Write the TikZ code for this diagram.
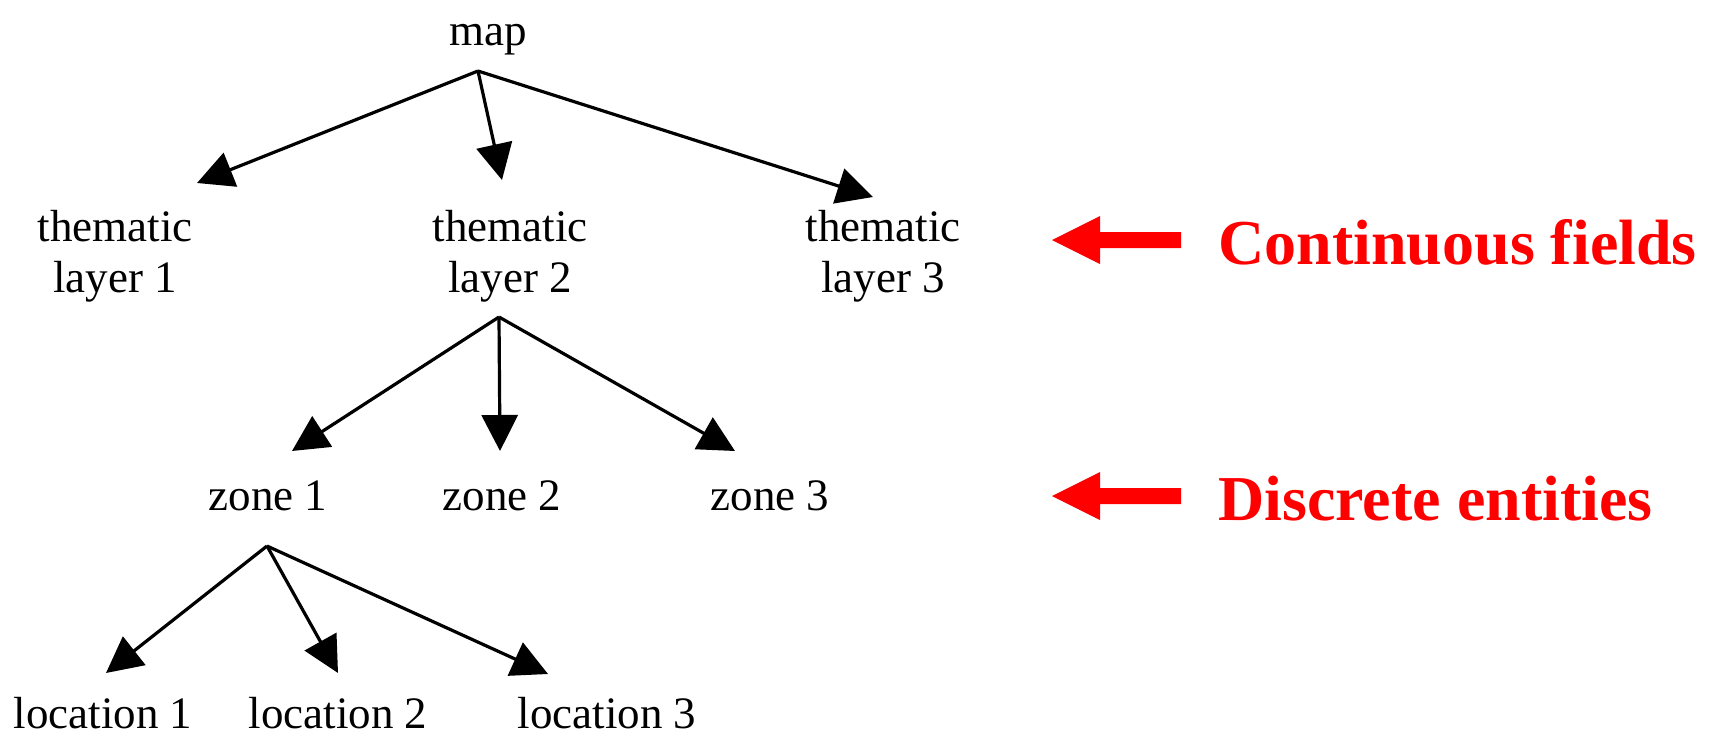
\documentclass[tikz,border=0pt]{standalone}
\usepackage{fontspec}
\setmainfont{Liberation Serif}
\usetikzlibrary{arrows.meta,calc}
\tikzset{
  treenode/.style={draw=none,inner sep=0pt,align=center,font=\fontsize{22.5}{25.5}\selectfont},
  treeedge/.style={black,line width=1.6pt,-{Triangle[length=18pt,width=18pt]}},
  levelnote/.style={draw=none,inner sep=0pt,anchor=base west,text=red,font=\fontsize{32}{38}\selectfont\bfseries},
}
\begin{document}
\begin{tikzpicture}[x=0.5pt,y=-0.5pt,line join=bevel,]
\useasboundingbox (0,0) rectangle (1710,735);
%%
\node (map) at (488,45) [treenode,anchor=base] {map};
  \node (layer_1) at (115,210) [treenode,anchor=north] {thematic\\layer 1};
  \node (layer_2) at (510,210) [treenode,anchor=north] {thematic\\layer 2};
  \node (layer_3) at (883,210) [treenode,anchor=north] {thematic\\layer 3};
  \node (zone_1) at (268,510) [treenode,anchor=base] {zone 1};
  \node (zone_2) at (502,510) [treenode,anchor=base] {zone 2};
  \node (zone_3) at (770,510) [treenode,anchor=base] {zone 3};
  \node (location_1) at (103,728) [treenode,anchor=base] {location 1};
  \node (location_2) at (338,728) [treenode,anchor=base] {location 2};
  \node (location_3) at (607,728) [treenode,anchor=base] {location 3};
%
  \draw [treeedge] ($(map.base)+(-10,26)$) -- ($(layer_1.north)+(82,-27)$);
  \draw [treeedge] ($(map.base)+(-10,26)$) -- ($(layer_2.north)+(-8,-30)$);
  \draw [treeedge] ($(map.base)+(-10,26)$) -- ($(layer_3.north)+(-10,-13)$);
  \draw [treeedge] ($(layer_2.north)+(-11,107)$) -- ($(zone_1.base)+(24,-59)$);
  \draw [treeedge] ($(layer_2.north)+(-11,107)$) -- ($(zone_2.base)+(-2,-59)$);
  \draw [treeedge] ($(layer_2.north)+(-11,107)$) -- ($(zone_3.base)+(-35,-59)$);
  \draw [treeedge] ($(zone_1.base)+(-1,36)$) -- ($(location_1.base)+(3,-55)$);
  \draw [treeedge] ($(zone_1.base)+(-1,36)$) -- ($(location_2.base)+(0,-55)$);
  \draw [treeedge] ($(zone_1.base)+(-1,36)$) -- ($(location_3.base)+(-59,-54)$);
%
\node (fields) at (1218,264) [levelnote] {Continuous fields};
  \node (entities) at (1218,520) [levelnote] {Discrete entities};
  \fill [red] (1052,240) -- (1100,216) -- (1100,232) -- (1181,232) -- (1181,248) -- (1100,248) -- (1100,264) -- cycle;
  \fill [red] (1052,496) -- (1100,472) -- (1100,488) -- (1181,488) -- (1181,504) -- (1100,504) -- (1100,520) -- cycle;
%
\end{tikzpicture}
\end{document}
